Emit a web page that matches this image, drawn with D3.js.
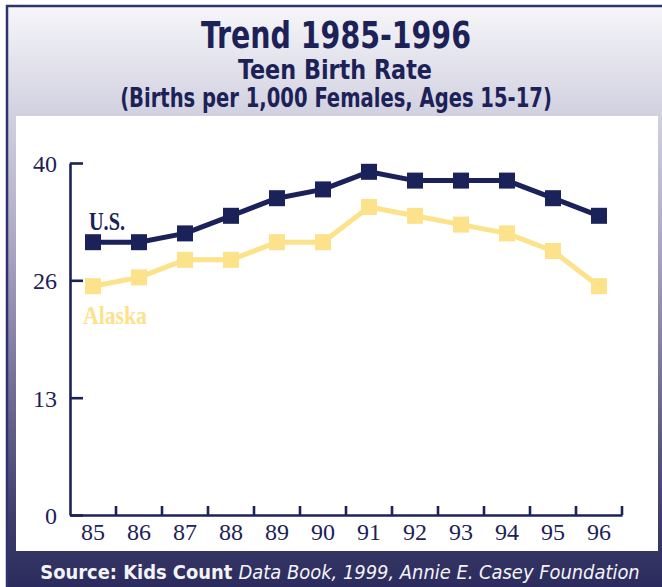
<html>
<head>
<script src="https://d3js.org/d3.v7.min.js"></script>
<style>
body {margin: 0; background: white;}
svg {display: block;}
.ttl {font-family: 'Liberation Sans Narrow', 'DejaVu Sans Condensed', 'Liberation Sans', sans-serif; font-weight: bold; fill: #1c2258; text-anchor: middle;}
.axis text {font-family: 'Liberation Serif', 'DejaVu Serif', serif; font-size: 24px; fill: #1c2258;}
.axis path, .axis line {stroke: #1c2258; stroke-width: 2.6;}
</style>
</head>
<body>
<div id="chart"></div>
<script>
// data
var years = ["85","86","87","88","89","90","91","92","93","94","95","96"];
var usRate = [31,31,32,34,36,37,39,38,38,38,36,34];
var alaskaRate = [26,27,29,29,31,31,35,34,33,32,30,26];
var yTickValues = [0, 13.33, 26.67, 40];
var yTickLabels = ["0","13","26","40"];
var seriesNames = ["U.S.","Alaska"];
var seriesColors = ["#1b2259","#fbe28b"];

var W = 662, H = 587;
var svg = d3.select("#chart").append("svg").attr("width", W).attr("height", H);

// background gradient of the frame
var grad = svg.append("defs").append("linearGradient")
  .attr("id","bg").attr("x1",0).attr("y1",0).attr("x2",0).attr("y2",1);
[[0,"#f6f6f9"],[0.18,"#d3d2e1"],[0.385,"#b0acc7"],[0.55,"#8d87ab"],[0.72,"#64608b"],[0.875,"#3f3e6d"],[1,"#2b2c5d"]]
  .forEach(function(s){ grad.append("stop").attr("offset",s[0]).attr("stop-color",s[1]); });

svg.append("rect").attr("x",7).attr("y",6).attr("width",W-7).attr("height",H-6).attr("fill","url(#bg)");
svg.append("line").attr("x1",7).attr("x2",7).attr("y1",5).attr("y2",H).attr("stroke","#2d3270").attr("stroke-width",2.5);
svg.append("line").attr("x1",6).attr("x2",W).attr("y1",6).attr("y2",6).attr("stroke","#2d3270").attr("stroke-width",2.5);

// white plot panel
svg.append("rect").attr("x",16).attr("y",116).attr("width",642).attr("height",435).attr("fill","white");

// squeeze a text to a given width around its centre
function fit(sel, cx, target) {
  var w = sel.node().getComputedTextLength();
  sel.attr("transform","translate("+cx+",0) scale("+(target/w)+",1) translate("+(-cx)+",0)");
}

var t1 = svg.append("text").attr("class","ttl").attr("x",336).attr("y",48).style("font-size","37px").text("Trend 1985-1996");
fit(t1, 336, 270);
var t2 = svg.append("text").attr("class","ttl").attr("x",335).attr("y",79).style("font-size","26px").text("Teen Birth Rate");
fit(t2, 335, 194);
var t3 = svg.append("text").attr("class","ttl").attr("x",336).attr("y",107).style("font-size","26px").text("(Births per 1,000 Females, Ages 15-17)");
fit(t3, 336, 432);

// scales
var x = d3.scaleBand().domain(years).range([70, 622]).padding(0);
var y = d3.scaleLinear().domain([0, 40]).range([515, 163]);
var cx = function(d){ return x(d) + x.bandwidth()/2; };

// y axis
var ya = svg.append("g").attr("class","axis").attr("transform","translate(70,0)")
  .call(d3.axisLeft(y).tickValues(yTickValues).tickFormat(function(d,i){ return yTickLabels[i]; })
    .tickSizeInner(-13).tickSizeOuter(0).tickPadding(13));
ya.selectAll(".tick text").attr("dy","0.35em");

// x axis
var xa = svg.append("g").attr("class","axis").attr("transform","translate(0,515)")
  .call(d3.axisBottom(x).tickSize(0).tickPadding(8));
xa.selectAll(".tick text").attr("dy","0.71em");
xa.selectAll(".tickmark").data(years).enter().append("line")
  .attr("x1",function(d){ return x(d)+x.bandwidth(); })
  .attr("x2",function(d){ return x(d)+x.bandwidth(); })
  .attr("y1",0).attr("y2",-9);

// lines + square markers
var series = [alaskaRate, usRate];
var cols = [seriesColors[1], seriesColors[0]];
var line = d3.line().x(function(d,i){ return cx(years[i]); }).y(function(d){ return y(d); });
series.forEach(function(vals, k){
  svg.append("path").datum(vals).attr("d",line)
    .attr("fill","none").attr("stroke",cols[k]).attr("stroke-width",5).attr("stroke-linejoin","round");
  svg.selectAll(".m"+k).data(vals).enter().append("rect")
    .attr("x",function(d,i){ return cx(years[i]) - 8; })
    .attr("y",function(d){ return y(d) - 8; })
    .attr("width",16).attr("height",16).attr("fill",cols[k]);
});

// series labels
var lUS = svg.append("text").attr("x",107).attr("y",230).attr("text-anchor","middle")
  .style("font-family","'Liberation Serif', serif").style("font-weight","bold").style("font-size","26px")
  .attr("fill",seriesColors[0]).text(seriesNames[0]);
fit(lUS, 107, 36);
var lAK = svg.append("text").attr("x",115).attr("y",324).attr("text-anchor","middle")
  .style("font-family","'Liberation Serif', serif").style("font-weight","bold").style("font-size","26px")
  .attr("fill",seriesColors[1]).text(seriesNames[1]);
fit(lAK, 115, 64);

// source line
var src = svg.append("text").attr("x",340).attr("y",579).attr("text-anchor","middle")
  .style("font-family","'Liberation Sans Narrow', 'DejaVu Sans Condensed', sans-serif").style("font-size","20px")
  .attr("fill","#f4f4f8");
src.append("tspan").style("font-weight","bold").text("Source: Kids Count ");
src.append("tspan").style("font-style","italic").text("Data Book, 1999, Annie E. Casey Foundation");
fit(src, 340, 600);
</script>
</body>
</html>
